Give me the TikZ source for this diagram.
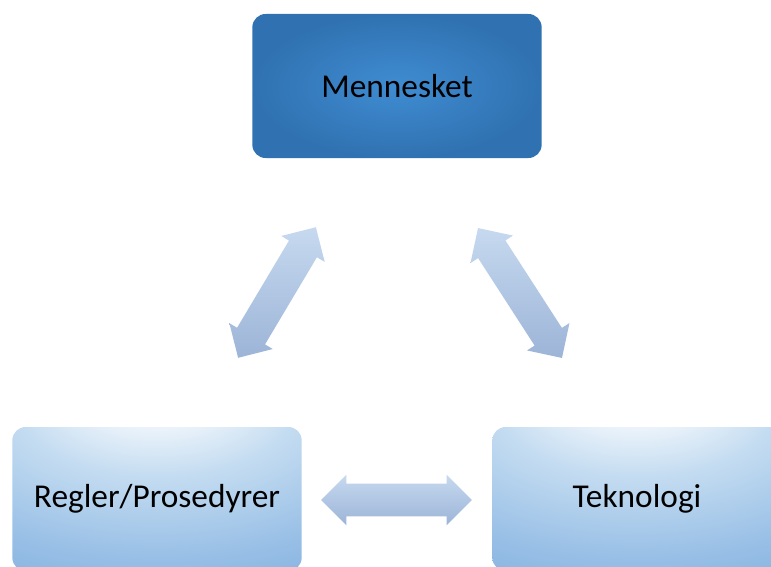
\documentclass[tikz,border=0pt]{standalone}
\usepackage{fontspec}
\setmainfont{Carlito}
\usepackage{tikz}
\usetikzlibrary{shapes.arrows}

\definecolor{topinner}{HTML}{3F8CD2}
\definecolor{topouter}{HTML}{3072B1}
\definecolor{boxlight}{HTML}{C4DCF1}
\definecolor{boxmid}{HTML}{98BFE6}
\definecolor{boxedge}{HTML}{6FA3D7}
\definecolor{arrowtop}{HTML}{C6D9EF}
\definecolor{arrowbot}{HTML}{9CB4D7}

\pgfdeclareradialshading{softtop}{\pgfpoint{0bp}{42bp}}{%
  color(0bp)=(white); color(6bp)=(white); color(24bp)=(boxlight);
  color(44bp)=(boxmid); color(70bp)=(boxedge); color(100bp)=(boxedge)}

\tikzset{
  mainbox/.style={rectangle, rounded corners=10pt, minimum width=217pt,
    minimum height=108pt, inner color=topinner, outer color=topouter,
    font=\fontsize{25}{29}\selectfont},
  sidebox/.style={rectangle, rounded corners=10pt, minimum width=217pt,
    minimum height=108pt, shading=softtop,
    font=\fontsize{25}{29}\selectfont},
  biarrow/.style={double arrow, sloped, inner xsep=0pt, inner ysep=12pt,
    text height=0pt, text depth=0pt, minimum width=37.5pt,
    double arrow head extend=6.75pt,
    top color=arrowtop, bottom color=arrowbot}
}

\begin{document}
\begin{tikzpicture}[x=0.75pt, y=-0.75pt]
  \clip (0,0) rectangle (771,567);
  \useasboundingbox (0,0) rectangle (771,567);

  % the three boxes
  \node[mainbox] (menn) at (397,86) {Mennesket};
  \node[sidebox] (regl) at (157,499) {Regler/Prosedyrer};
  \node[sidebox] (tekn) at (637,499) {Teknologi};

  % arrow ends
  \coordinate (ml) at (316,227);
  \coordinate (rm) at (238,358);
  \coordinate (mr) at (478,228);
  \coordinate (tm) at (562,358);
  \coordinate (rt) at (321,500);
  \coordinate (tr) at (472,500);

  % the block arrows
  \path (rm) -- node[biarrow, minimum height=114pt] (a1) {} (ml);
  \path (mr) -- node[biarrow, minimum height=116pt] (a2) {} (tm);
  \path (rt) -- node[biarrow, minimum height=113pt] (a3) {} (tr);
\end{tikzpicture}
\end{document}
